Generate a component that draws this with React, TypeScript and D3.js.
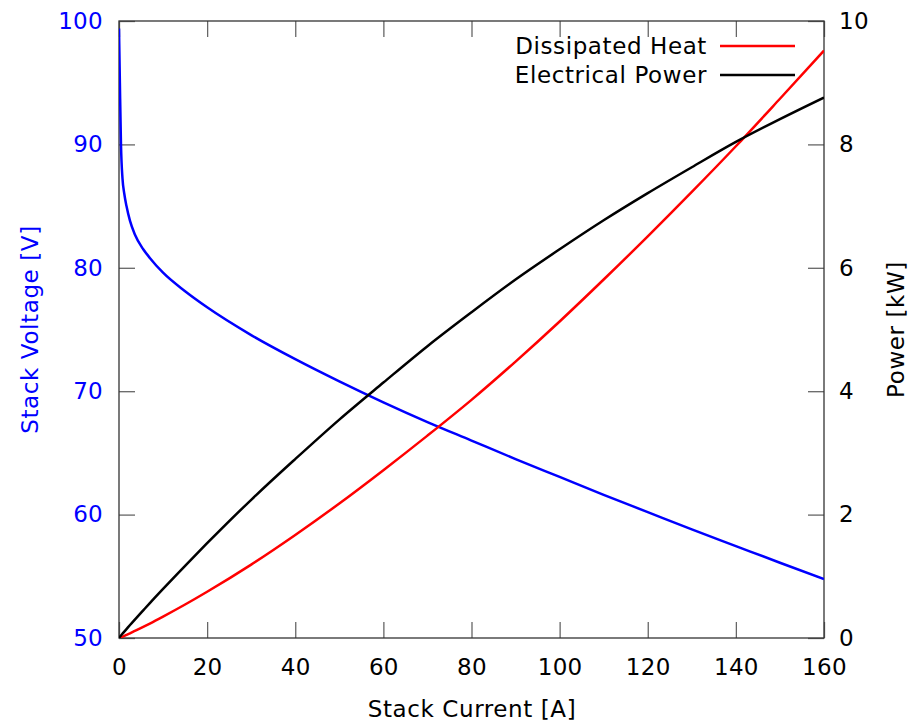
import React, { useEffect, useRef } from 'react';
import * as d3 from 'd3';

// values
const current = [0, 0.2, 0.45, 0.8, 1.2, 1.7, 2.5, 3.6, 5.5, 7, 10, 15, 20, 30, 40, 50, 60, 70, 80, 90, 100, 110, 120, 130, 140, 150, 160];
const voltage = [99.4, 95.0, 90.0, 87.2, 86.0, 85.0, 83.8, 82.7, 81.5, 80.8, 79.6, 78.1, 76.8, 74.55, 72.6, 70.8, 69.1, 67.5, 66.0, 64.5, 63.05, 61.6, 60.2, 58.8, 57.45, 56.1, 54.78];
const power = [0, 0.019, 0.041, 0.07, 0.103, 0.144, 0.21, 0.298, 0.448, 0.566, 0.796, 1.17, 1.536, 2.24, 2.9, 3.54, 4.14, 4.73, 5.28, 5.81, 6.3, 6.77, 7.21, 7.63, 8.04, 8.41, 8.76];
const heat = [0, 0.004, 0.011, 0.022, 0.034, 0.05, 0.076, 0.114, 0.18, 0.234, 0.347, 0.543, 0.75, 1.19, 1.67, 2.18, 2.72, 3.28, 3.86, 4.48, 5.13, 5.81, 6.51, 7.23, 7.97, 8.74, 9.52];

const xTicks = [0, 20, 40, 60, 80, 100, 120, 140, 160];
const yTicks = [50, 60, 70, 80, 90, 100];
const y2Ticks = [0, 2, 4, 6, 8, 10];

const legend = [
  { name: 'Dissipated Heat', color: '#ff0000' },
  { name: 'Electrical Power', color: '#000000' },
];

function Chart() {
  const ref = useRef<SVGSVGElement>(null);

  useEffect(() => {
    const W = 920, H = 723;
    const m = { left: 119, right: 96, top: 21, bottom: 85 };
    const iw = W - m.left - m.right;
    const ih = H - m.top - m.bottom;
    const font = "'DejaVu Sans', sans-serif";
    const fs = '23px';
    const ls = '0.6px';

    const svg = d3.select(ref.current);
    svg.selectAll('*').remove();

    const x = d3.scaleLinear().domain([0, 160]).range([0, iw]);
    const y = d3.scaleLinear().domain([50, 100]).range([ih, 0]);
    const y2 = d3.scaleLinear().domain([0, 10]).range([ih, 0]);

    const g = svg.append('g').attr('transform', `translate(${m.left},${m.top})`);

    g.append('clipPath').attr('id', 'plot-clip')
      .append('rect').attr('width', iw).attr('height', ih);

    const styleAxis = (sel: any, color: string) => {
      sel.select('.domain').remove();
      sel.selectAll('.tick line').attr('stroke', '#666').attr('stroke-width', 1.3);
      sel.selectAll('.tick text')
        .attr('fill', color)
        .style('font-family', font)
        .style('font-size', fs)
        .style('letter-spacing', '0.3px');
    };

    g.append('g').attr('transform', `translate(0,${ih})`)
      .call(d3.axisBottom(x).tickValues(xTicks).tickSize(-16).tickPadding(21).tickSizeOuter(0))
      .call((s: any) => styleAxis(s, '#000'));
    g.append('g')
      .call(d3.axisTop(x).tickValues(xTicks).tickSize(-16).tickFormat(() => '').tickSizeOuter(0))
      .call((s: any) => styleAxis(s, '#000'));
    g.append('g')
      .call(d3.axisLeft(y).tickValues(yTicks).tickSize(-16).tickPadding(16).tickSizeOuter(0))
      .call((s: any) => styleAxis(s, '#0000ff'));
    g.append('g').attr('transform', `translate(${iw},0)`)
      .call(d3.axisRight(y2).tickValues(y2Ticks).tickSize(-16).tickPadding(15).tickSizeOuter(0))
      .call((s: any) => styleAxis(s, '#000'));

    g.append('rect')
      .attr('width', iw).attr('height', ih)
      .attr('fill', 'none').attr('stroke', '#333').attr('stroke-width', 1.3);

    const idx = d3.range(current.length);
    const lineV = d3.line<number>().x(i => x(current[i])).y(i => y(voltage[i])).curve(d3.curveMonotoneX);
    const lineP = d3.line<number>().x(i => x(current[i])).y(i => y2(power[i])).curve(d3.curveMonotoneX);
    const lineH = d3.line<number>().x(i => x(current[i])).y(i => y2(heat[i])).curve(d3.curveMonotoneX);

    const plot = g.append('g').attr('clip-path', 'url(#plot-clip)');
    plot.append('path').attr('d', lineV(idx)).attr('fill', 'none').attr('stroke', '#0000ff').attr('stroke-width', 2.5);
    plot.append('path').attr('d', lineH(idx)).attr('fill', 'none').attr('stroke', '#ff0000').attr('stroke-width', 2.5);
    plot.append('path').attr('d', lineP(idx)).attr('fill', 'none').attr('stroke', '#000000').attr('stroke-width', 2.5);

    // legend
    legend.forEach((d, i) => {
      const ly = 46 + i * 29;
      svg.append('text')
        .attr('x', 707).attr('y', ly + 8)
        .attr('text-anchor', 'end')
        .style('font-family', font).style('font-size', fs).style('letter-spacing', ls)
        .text(d.name);
      svg.append('line')
        .attr('x1', 720).attr('x2', 795).attr('y1', ly).attr('y2', ly)
        .attr('stroke', d.color).attr('stroke-width', 2.5);
    });

    // axis titles
    svg.append('text')
      .attr('x', 472).attr('y', 717)
      .attr('text-anchor', 'middle')
      .style('font-family', font).style('font-size', fs).style('letter-spacing', ls)
      .text('Stack Current [A]');
    svg.append('text')
      .attr('transform', `translate(38,${m.top + ih / 2}) rotate(-90)`)
      .attr('text-anchor', 'middle')
      .attr('fill', '#0000ff')
      .style('font-family', font).style('font-size', fs).style('letter-spacing', ls)
      .text('Stack Voltage [V]');
    svg.append('text')
      .attr('transform', `translate(904,${m.top + ih / 2}) rotate(-90)`)
      .attr('text-anchor', 'middle')
      .style('font-family', font).style('font-size', fs).style('letter-spacing', ls)
      .text('Power [kW]');
  }, []);

  return (
    <svg ref={ref} width={920} height={723}
      style={{ position: 'absolute', left: 0, top: 0, background: '#fff' }} />
  );
}

export default function App() {
  return <Chart />;
}
